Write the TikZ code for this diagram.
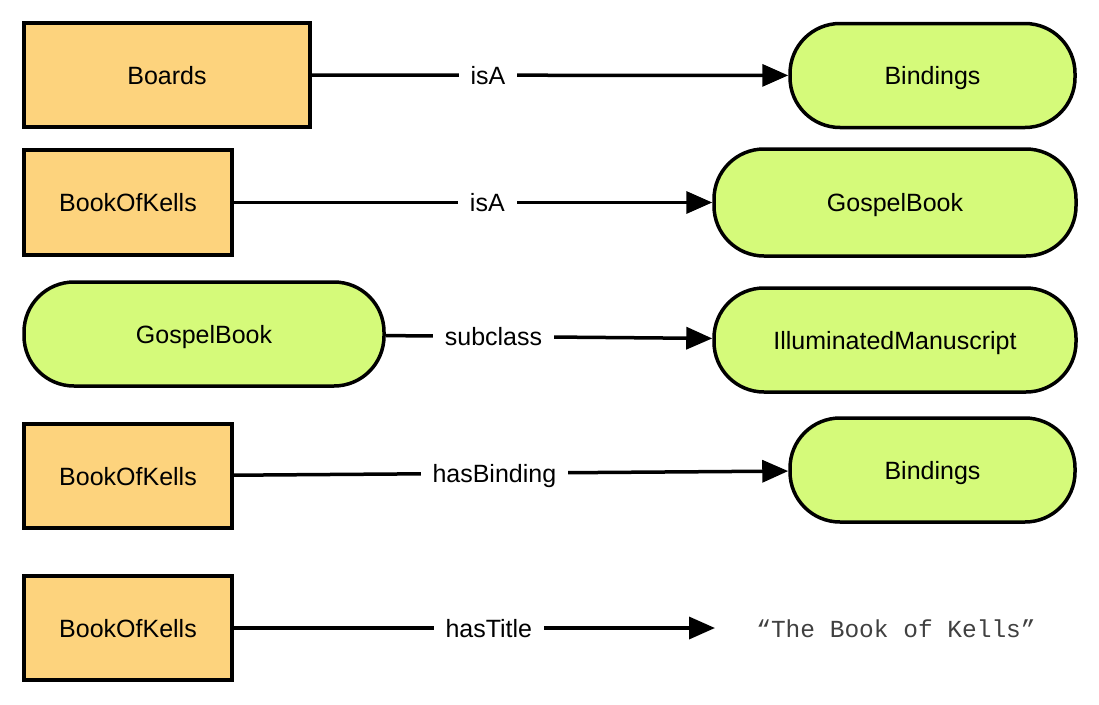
\documentclass[tikz,border=0pt]{standalone}
\usepackage{fontspec}
\setmainfont{Liberation Sans}
\newfontfamily\monofont{Liberation Mono}
\usetikzlibrary{arrows.meta}
\definecolor{inst}{RGB}{253,211,125}
\definecolor{cls}{RGB}{213,250,122}
\begin{document}
\begin{tikzpicture}[x=1pt,y=-1pt,
  font=\fontsize{25}{29}\selectfont,
  instbox/.style={draw=black,line width=3.5pt,fill=inst,rectangle,inner sep=0pt,minimum height=104pt,text height=18pt,text depth=0pt},
  clsbox/.style={draw=black,line width=3.5pt,fill=cls,rectangle,rounded corners=50pt,inner sep=0pt,minimum height=104pt,text height=18pt,text depth=0pt},
  conn/.style={line width=3.5pt,-{Triangle[length=26pt,width=22pt]}},
  lbl/.style={fill=white,inner xsep=12pt,inner ysep=6pt,text=black,text height=18pt,text depth=0pt}]
\fill[white] (0,0) rectangle (1099,704);
% row 1
\node[instbox,minimum width=286pt] (boards) at (167,75) {Boards};
\node[clsbox,minimum width=285pt] (bind1) at (932.5,75.5) {Bindings};
\draw[conn] (boards) -- node[lbl,pos=0.37] {isA} (bind1);
% row 2
\node[instbox,minimum width=208pt,minimum height=105pt] (bok1) at (128,202.5) {BookOfKells};
\node[clsbox,minimum width=362pt,minimum height=107pt] (gospel1) at (895,202.5) {GospelBook};
\draw[conn] (bok1) -- node[lbl,pos=0.53] {isA} (gospel1);
% row 3
\node[clsbox,minimum width=360pt] (gospel2) at (204,334) {GospelBook};
\node[clsbox,minimum width=362pt,minimum height=104pt] (illum) at (895,340) {IlluminatedManuscript};
\draw[conn] (gospel2) -- node[lbl,pos=0.33] {subclass} (illum);
% row 4
\node[instbox,minimum width=208pt] (bok2) at (128,476) {BookOfKells};
\node[clsbox,minimum width=285pt] (bind2) at (932.5,470) {Bindings};
\draw[conn] (bok2) -- node[lbl,pos=0.47] {hasBinding} (bind2);
% row 5
\node[instbox,minimum width=208pt] (bok3) at (128,628) {BookOfKells};
\node[text=black!75,text height=18pt,text depth=0pt] (title) at (896,628) {\monofont\fontsize{24.5}{28}\selectfont “The Book of Kells”};
\coordinate (titleend) at (715,628);
\draw[conn] (bok3) -- node[lbl,pos=0.53] {hasTitle} (titleend);
\end{tikzpicture}
\end{document}
